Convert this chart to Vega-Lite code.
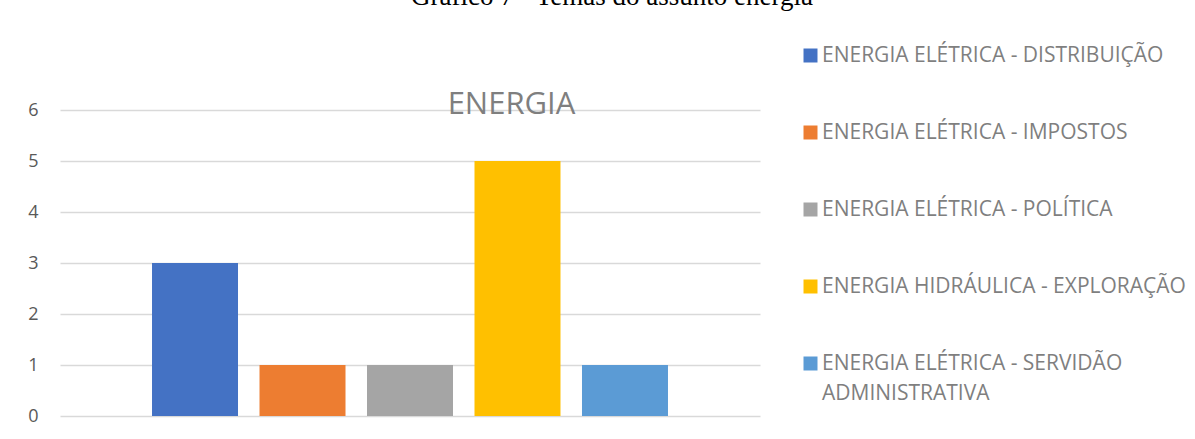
{
  "$schema": "https://vega.github.io/schema/vega-lite/v6.json",
  "autosize": "none",
  "padding": {"left": 60, "top": 110, "right": 435, "bottom": 23},
  "width": 700,
  "height": 306,
  "background": "white",
  "title": {
    "text": "Gráfico 7 - Temas do assunto energia",
    "font": "Liberation Serif",
    "fontSize": 27,
    "fontWeight": "normal",
    "color": "#000000",
    "anchor": "start",
    "frame": "group",
    "baseline": "alphabetic",
    "offset": 0,
    "dx": 351,
    "dy": -13
  },
  "data": {
    "values": [
      {"tema": "ENERGIA ELÉTRICA - DISTRIBUIÇÃO", "valor": 3},
      {"tema": "ENERGIA ELÉTRICA - IMPOSTOS", "valor": 1},
      {"tema": "ENERGIA ELÉTRICA - POLÍTICA", "valor": 1},
      {"tema": "ENERGIA HIDRÁULICA - EXPLORAÇÃO", "valor": 5},
      {"tema": "ENERGIA ELÉTRICA - SERVIDÃO ADMINISTRATIVA", "valor": 1}
    ]
  },
  "mark": {"type": "bar"},
  "encoding": {
    "x": {
      "field": "tema",
      "type": "nominal",
      "sort": null,
      "scale": {"paddingInner": 0.2, "paddingOuter": 0.856},
      "axis": {
        "orient": "top",
        "labels": false,
        "ticks": false,
        "domain": false,
        "grid": false,
        "title": "ENERGIA",
        "titleFont": "Open Sans",
        "titleFontSize": 31,
        "titleFontWeight": "normal",
        "titleColor": "#7f7f7f",
        "titleX": 451,
        "titleY": 3,
        "titleAlign": "center",
        "titleBaseline": "alphabetic",
        "titleAngle": 0
      }
    },
    "y": {
      "field": "valor",
      "type": "quantitative",
      "scale": {"domain": [0, 6], "nice": false},
      "axis": {
        "values": [0, 1, 2, 3, 4, 5, 6],
        "title": null,
        "domain": false,
        "ticks": false,
        "grid": true,
        "gridColor": "#d9d9d9",
        "gridWidth": 1.3,
        "labelFont": "Open Sans",
        "labelFontSize": 18,
        "labelColor": "#595959",
        "labelPadding": 22
      }
    },
    "color": {
      "field": "tema",
      "type": "nominal",
      "scale": {
        "domain": [
          "ENERGIA ELÉTRICA - DISTRIBUIÇÃO",
          "ENERGIA ELÉTRICA - IMPOSTOS",
          "ENERGIA ELÉTRICA - POLÍTICA",
          "ENERGIA HIDRÁULICA - EXPLORAÇÃO",
          "ENERGIA ELÉTRICA - SERVIDÃO ADMINISTRATIVA"
        ],
        "range": ["#4472C4", "#ED7D31", "#A5A5A5", "#FFC000", "#5B9BD5"]
      },
      "legend": {
        "orient": "none",
        "legendX": 740,
        "legendY": -65,
        "title": null,
        "symbolType": "square",
        "symbolSize": 196,
        "symbolStrokeWidth": 0,
        "labelFont": "Open Sans",
        "labelFontSize": 21,
        "labelColor": "#7f7f7f",
        "labelOffset": 1,
        "labelLimit": 500,
        "rowPadding": 55,
        "labelExpr": "datum.label == 'ENERGIA ELÉTRICA - SERVIDÃO ADMINISTRATIVA' ? ['ENERGIA ELÉTRICA - SERVIDÃO', 'ADMINISTRATIVA'] : datum.label",
        "encode": {
          "labels": {"update": {"lineHeight": {"value": 30}}}
        }
      }
    }
  },
  "config": {
    "view": {"stroke": null}
  }
}
